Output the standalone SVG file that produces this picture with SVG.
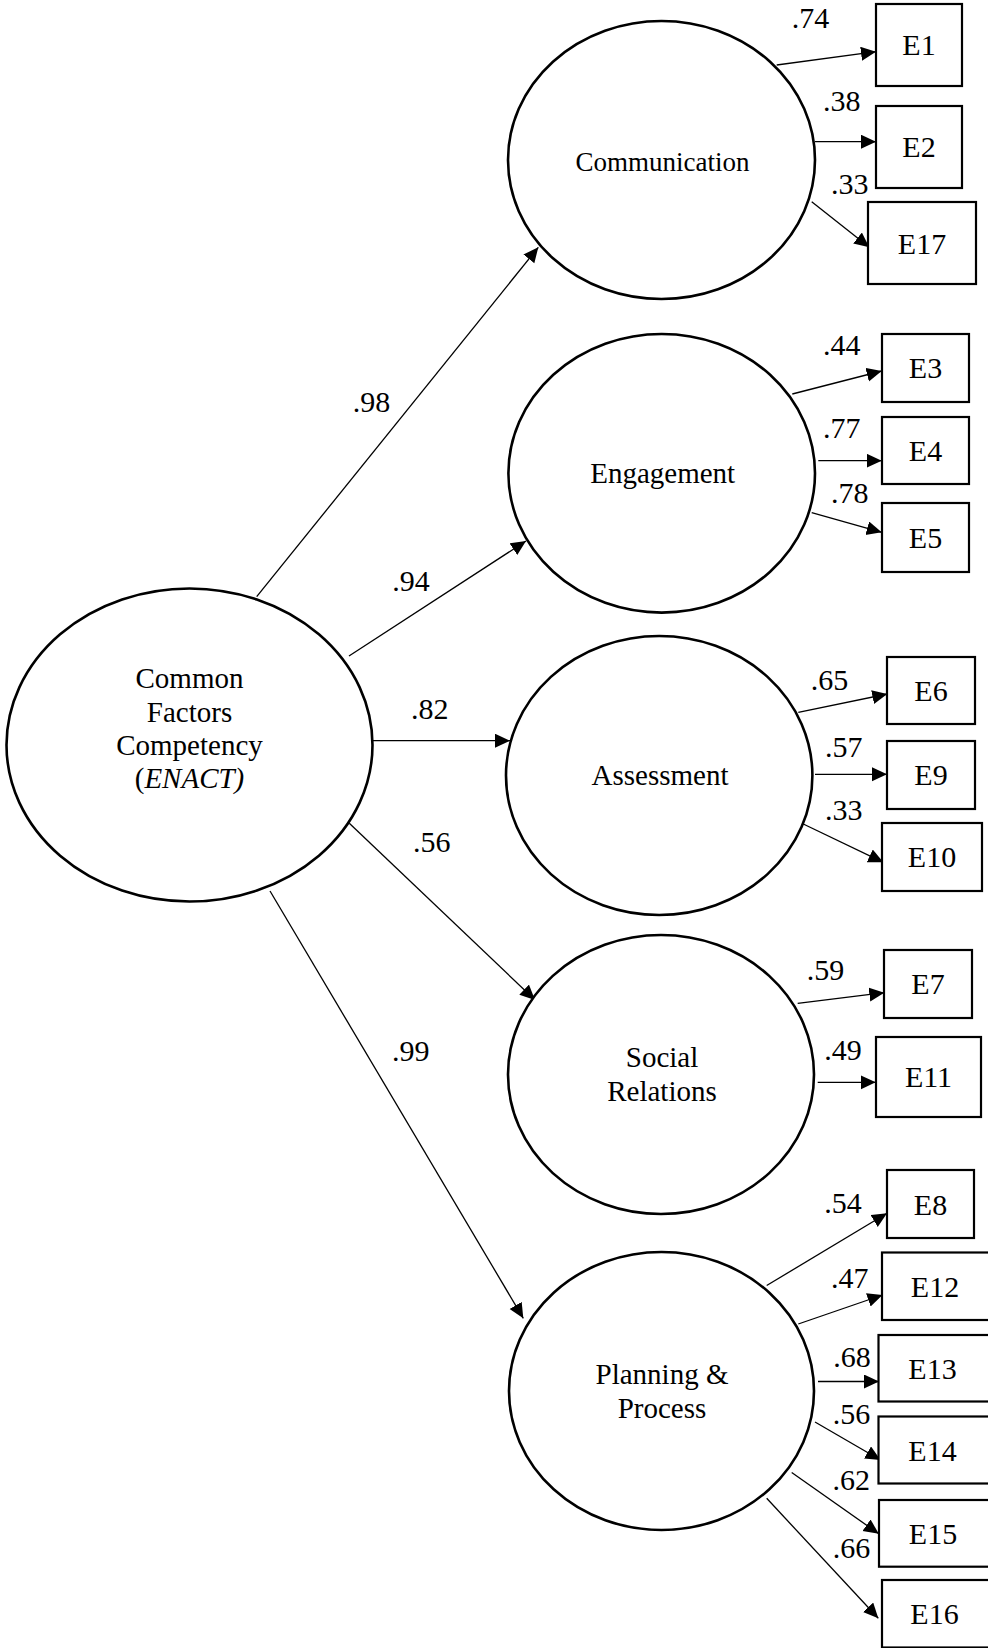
<svg xmlns="http://www.w3.org/2000/svg" width="988" height="1648" viewBox="0 0 988 1648">
  <style>
    text { font-family: "Liberation Serif", "Times New Roman", serif; fill: #000; }
    .latent { fill: #fff; stroke: #000; stroke-width: 2.6; }
    .box { fill: #fff; stroke: #000; stroke-width: 2.2; }
    .lt { font-size: 29px; text-anchor: middle; }
    .ind { font-size: 30px; text-anchor: middle; }
    .coef { font-size: 30px; }
    .path { stroke: #000; stroke-width: 1.3; fill: none; marker-end: url(#ah); }
  </style>
  <defs>
    <marker id="ah" markerUnits="userSpaceOnUse" markerWidth="16" markerHeight="16" refX="15" refY="7" orient="auto">
      <path d="M0,0 L15,7 L0,14 z" fill="#000"/>
    </marker>
  </defs>
  <rect width="988" height="1648" fill="#fff"/>

  <!-- connectors -->
  <g id="connectors">
    <!-- second-order factor to first-order factors -->
    <line class="path" x1="256.7" y1="596.7" x2="538.3" y2="247.3"/>
    <line class="path" x1="349" y1="656" x2="526" y2="541"/>
    <line class="path" x1="373" y1="740.7" x2="510" y2="740.7"/>
    <line class="path" x1="349.3" y1="823.3" x2="535" y2="1000"/>
    <line class="path" x1="270" y1="891" x2="523.3" y2="1318.3"/>
    <!-- Communication items -->
    <line class="path" x1="776.7" y1="65" x2="876" y2="51.7"/>
    <line class="path" x1="815" y1="141.7" x2="876" y2="141.7"/>
    <line class="path" x1="811.7" y1="201.7" x2="869.3" y2="247.3"/>
    <!-- Engagement items -->
    <line class="path" x1="792.3" y1="394" x2="881.7" y2="371"/>
    <line class="path" x1="818.3" y1="460.7" x2="881.7" y2="460.7"/>
    <line class="path" x1="811.7" y1="512.7" x2="881.7" y2="532.3"/>
    <!-- Assessment items -->
    <line class="path" x1="798.3" y1="712.3" x2="887.3" y2="694"/>
    <line class="path" x1="815" y1="774.3" x2="887" y2="774.3"/>
    <line class="path" x1="803.3" y1="824" x2="883.3" y2="862.3"/>
    <!-- Social Relations items -->
    <line class="path" x1="797.7" y1="1003.3" x2="884.3" y2="992.7"/>
    <line class="path" x1="817.7" y1="1082.3" x2="875.7" y2="1082.3"/>
    <!-- Planning & Process items -->
    <line class="path" x1="766.7" y1="1285.5" x2="887" y2="1213.3"/>
    <line class="path" x1="798.3" y1="1324" x2="882.5" y2="1295"/>
    <line class="path" x1="818" y1="1381.5" x2="879" y2="1381.5"/>
    <line class="path" x1="815" y1="1422" x2="880.5" y2="1460"/>
    <line class="path" x1="791.7" y1="1472.5" x2="878.8" y2="1533.8"/>
    <line class="path" x1="766.7" y1="1498.3" x2="878.3" y2="1618.3"/>

    <!-- loadings -->
    <text class="coef" x="352.7" y="411.7">.98</text>
    <text class="coef" x="392.3" y="591">.94</text>
    <text class="coef" x="411" y="719">.82</text>
    <text class="coef" x="413" y="852">.56</text>
    <text class="coef" x="392" y="1061">.99</text>

    <text class="coef" x="791.7" y="28">.74</text>
    <text class="coef" x="823" y="110.7">.38</text>
    <text class="coef" x="831" y="194">.33</text>
    <text class="coef" x="823" y="355">.44</text>
    <text class="coef" x="823" y="438.3">.77</text>
    <text class="coef" x="831" y="503.3">.78</text>
    <text class="coef" x="810.7" y="690">.65</text>
    <text class="coef" x="825" y="756.7">.57</text>
    <text class="coef" x="825" y="820">.33</text>
    <text class="coef" x="806.7" y="980">.59</text>
    <text class="coef" x="824.3" y="1060">.49</text>
    <text class="coef" x="824.3" y="1213.3">.54</text>
    <text class="coef" x="831" y="1288.3">.47</text>
    <text class="coef" x="833.3" y="1366.7">.68</text>
    <text class="coef" x="832.7" y="1424">.56</text>
    <text class="coef" x="832.5" y="1490">.62</text>
    <text class="coef" x="832.7" y="1558.3">.66</text>
  </g>

  <!-- latent factors -->
  <g id="enact">
    <ellipse class="latent" cx="189.5" cy="745" rx="183" ry="156.5"/>
    <text class="lt" x="189.5" y="688.3">Common</text>
    <text class="lt" x="189.5" y="721.7">Factors</text>
    <text class="lt" x="189.5" y="755">Competency</text>
    <text class="lt" x="189.5" y="788.3">(<tspan font-style="italic">ENACT)</tspan></text>
  </g>
  <g id="communication">
    <ellipse class="latent" cx="661.5" cy="160" rx="153.5" ry="139"/>
    <text class="lt" x="662.5" y="170.7" style="font-size:27px">Communication</text>
  </g>
  <g id="engagement">
    <ellipse class="latent" cx="661.7" cy="473.3" rx="153.3" ry="139.3"/>
    <text class="lt" x="662.7" y="483">Engagement</text>
  </g>
  <g id="assessment">
    <ellipse class="latent" cx="659.2" cy="775.5" rx="153.2" ry="139.5"/>
    <text class="lt" x="660" y="785">Assessment</text>
  </g>
  <g id="social-relations">
    <ellipse class="latent" cx="661" cy="1074.5" rx="153" ry="139.5"/>
    <text class="lt" x="662" y="1066.7">Social</text>
    <text class="lt" x="662" y="1101">Relations</text>
  </g>
  <g id="planning-process">
    <ellipse class="latent" cx="661.5" cy="1391" rx="152.5" ry="139"/>
    <text class="lt" x="662" y="1384">Planning &amp;</text>
    <text class="lt" x="662" y="1418.3">Process</text>
  </g>

  <!-- observed items -->
  <g id="E1"><rect class="box" x="876" y="4" width="86" height="82"/><text class="ind" x="919" y="55">E1</text></g>
  <g id="E2"><rect class="box" x="876" y="106" width="86" height="82"/><text class="ind" x="919" y="157">E2</text></g>
  <g id="E17"><rect class="box" x="868" y="202" width="108" height="82"/><text class="ind" x="922" y="254">E17</text></g>
  <g id="E3"><rect class="box" x="882" y="334" width="87" height="68"/><text class="ind" x="925.5" y="378">E3</text></g>
  <g id="E4"><rect class="box" x="882" y="417" width="87" height="67"/><text class="ind" x="925.5" y="460.5">E4</text></g>
  <g id="E5"><rect class="box" x="882" y="503" width="87" height="69"/><text class="ind" x="925.5" y="547.5">E5</text></g>
  <g id="E6"><rect class="box" x="887" y="657" width="88" height="67"/><text class="ind" x="931" y="700.5">E6</text></g>
  <g id="E9"><rect class="box" x="887" y="741" width="88" height="68"/><text class="ind" x="931" y="785">E9</text></g>
  <g id="E10"><rect class="box" x="882" y="823" width="100" height="68"/><text class="ind" x="932" y="867">E10</text></g>
  <g id="E7"><rect class="box" x="884" y="950" width="88" height="68"/><text class="ind" x="928" y="994">E7</text></g>
  <g id="E11"><rect class="box" x="876" y="1037" width="105" height="80"/><text class="ind" x="928.5" y="1087">E11</text></g>
  <g id="E8"><rect class="box" x="887" y="1170" width="87" height="68"/><text class="ind" x="930.5" y="1214.5">E8</text></g>
  <g id="E12"><rect class="box" x="882" y="1252.5" width="108" height="67.5"/><text class="ind" x="935" y="1297">E12</text></g>
  <g id="E13"><rect class="box" x="878.5" y="1335" width="111.5" height="66.5"/><text class="ind" x="932.5" y="1379">E13</text></g>
  <g id="E14"><rect class="box" x="878.5" y="1416.5" width="111.5" height="67"/><text class="ind" x="932.5" y="1460.5">E14</text></g>
  <g id="E15"><rect class="box" x="879" y="1500" width="111" height="66.7"/><text class="ind" x="933" y="1544">E15</text></g>
  <g id="E16"><rect class="box" x="882" y="1580" width="108" height="67.5"/><text class="ind" x="934.5" y="1624">E16</text></g>
</svg>
